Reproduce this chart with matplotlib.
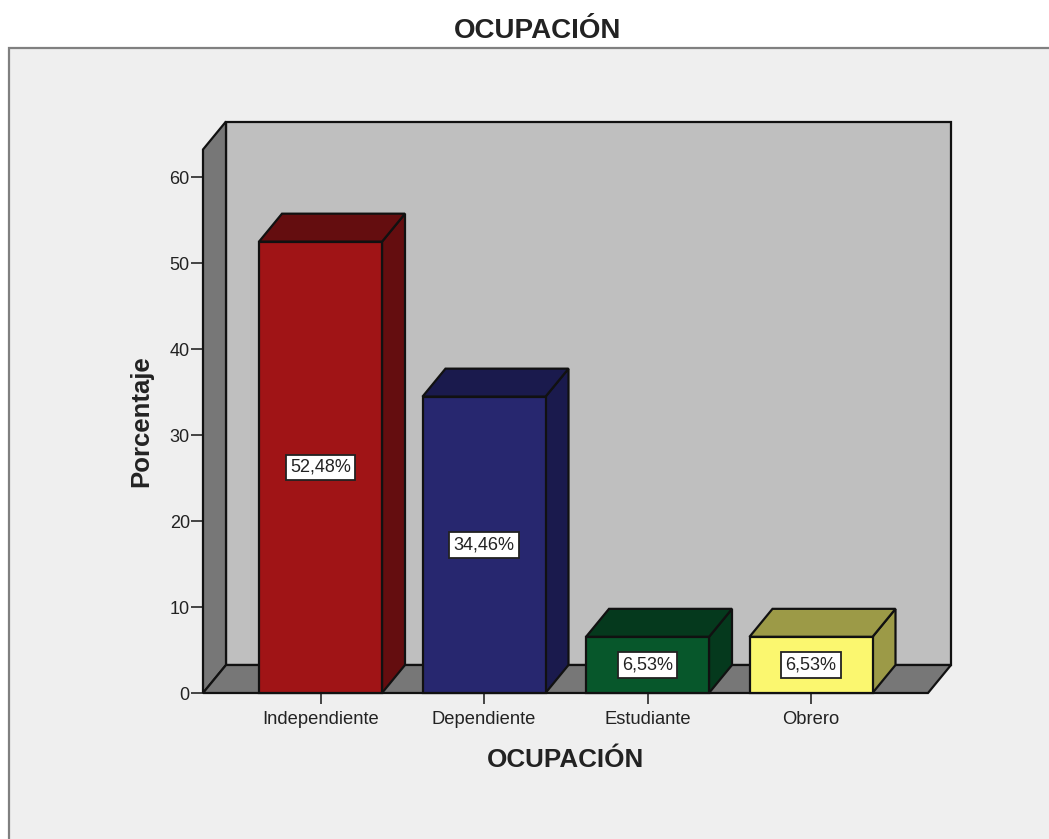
import matplotlib
matplotlib.use('Agg')
import matplotlib.pyplot as plt
from matplotlib.patches import Polygon, Rectangle

plt.rcParams['font.family'] = ['Liberation Sans', 'DejaVu Sans']

categories = ['Independiente', 'Dependiente', 'Estudiante', 'Obrero']
percent = [52.48, 34.46, 6.53, 6.53]
labels = ['52,48%', '34,46%', '6,53%', '6,53%']
yticks = [0, 10, 20, 30, 40, 50, 60]

front_colors = ['#a01416', '#27276f', '#07572b', '#fbf76f']
dark_colors = ['#640d0f', '#1a1a4d', '#05391d', '#9c9a47']

W, H = 1049, 839
EDGE = '#111111'
TXT = '#222222'

# pixel layout of the front plane
left_px, right_px, base_px, top_px = 203, 928, 693, 149.5
px_per_unit = 8.6
px_per_cat = 163.5
bar_w = 123 / px_per_cat
dx = 23 / px_per_cat    # depth offset of the 3d box
dy = 28 / px_per_unit

fig = plt.figure(figsize=(W / 100, H / 100), dpi=100, facecolor='white')
fig.add_artist(Rectangle((9 / W, -0.01), 1.02, 1.01 - 47.5 / H, transform=fig.transFigure,
                         facecolor='#efefef', edgecolor='#808080', lw=1.6, zorder=-1))

ax = fig.add_axes([left_px / W, 1 - base_px / H, (right_px - left_px) / W, (base_px - top_px) / H])
ax.patch.set_visible(False)
xmin = -(320.5 - left_px) / px_per_cat
xmax = xmin + (right_px - left_px) / px_per_cat
ymax = (base_px - top_px) / px_per_unit
ax.set_xlim(xmin, xmax)
ax.set_ylim(0, ymax)
for s in ax.spines.values():
    s.set_visible(False)


def face(pts, color, z):
    ax.add_patch(Polygon(pts, closed=True, facecolor=color, edgecolor=EDGE, lw=1.6,
                         joinstyle='miter', clip_on=False, zorder=z))


# walls and floor
face([(xmin + dx, dy), (xmax + dx, dy), (xmax + dx, ymax + dy), (xmin + dx, ymax + dy)], '#bfbfbf', 1)
face([(xmin, 0), (xmin + dx, dy), (xmin + dx, ymax + dy), (xmin, ymax)], '#777777', 2)
face([(xmin, 0), (xmax, 0), (xmax + dx, dy), (xmin + dx, dy)], '#777777', 2)

for i, v in enumerate(percent):
    x0 = i - bar_w / 2
    x1 = i + bar_w / 2
    z = 3 + i
    face([(x1, 0), (x1 + dx, dy), (x1 + dx, v + dy), (x1, v)], dark_colors[i], z)
    face([(x0, v), (x1, v), (x1 + dx, v + dy), (x0 + dx, v + dy)], dark_colors[i], z)
    face([(x0, 0), (x1, 0), (x1, v), (x0, v)], front_colors[i], z)
    ax.text(i, v / 2, labels[i], ha='center', va='center', fontsize=13, color=TXT, zorder=10,
            bbox=dict(boxstyle='square,pad=0.24', facecolor='white', edgecolor='#222222', lw=1.3))

ax.set_xticks(range(len(categories)))
ax.set_xticklabels(categories)
ax.set_yticks(yticks)
ax.tick_params(axis='x', length=8, width=1.4, color='#444444', labelsize=13.2, labelcolor=TXT, pad=4.7)
ax.tick_params(axis='y', length=8.5, width=1.4, color='#444444', labelsize=13, labelcolor=TXT, pad=1)

ax.set_xlabel('OCUPACIÓN', fontsize=18.7, fontweight='bold', color=TXT, labelpad=15)
ax.set_ylabel('Porcentaje', fontsize=18.5, fontweight='bold', color=TXT, labelpad=12)

fig.text(538 / W, 1 - 31.5 / H, 'OCUPACIÓN', ha='center', va='center', fontsize=20,
         fontweight='bold', color=TXT)

fig.savefig('out.png', dpi=100)
